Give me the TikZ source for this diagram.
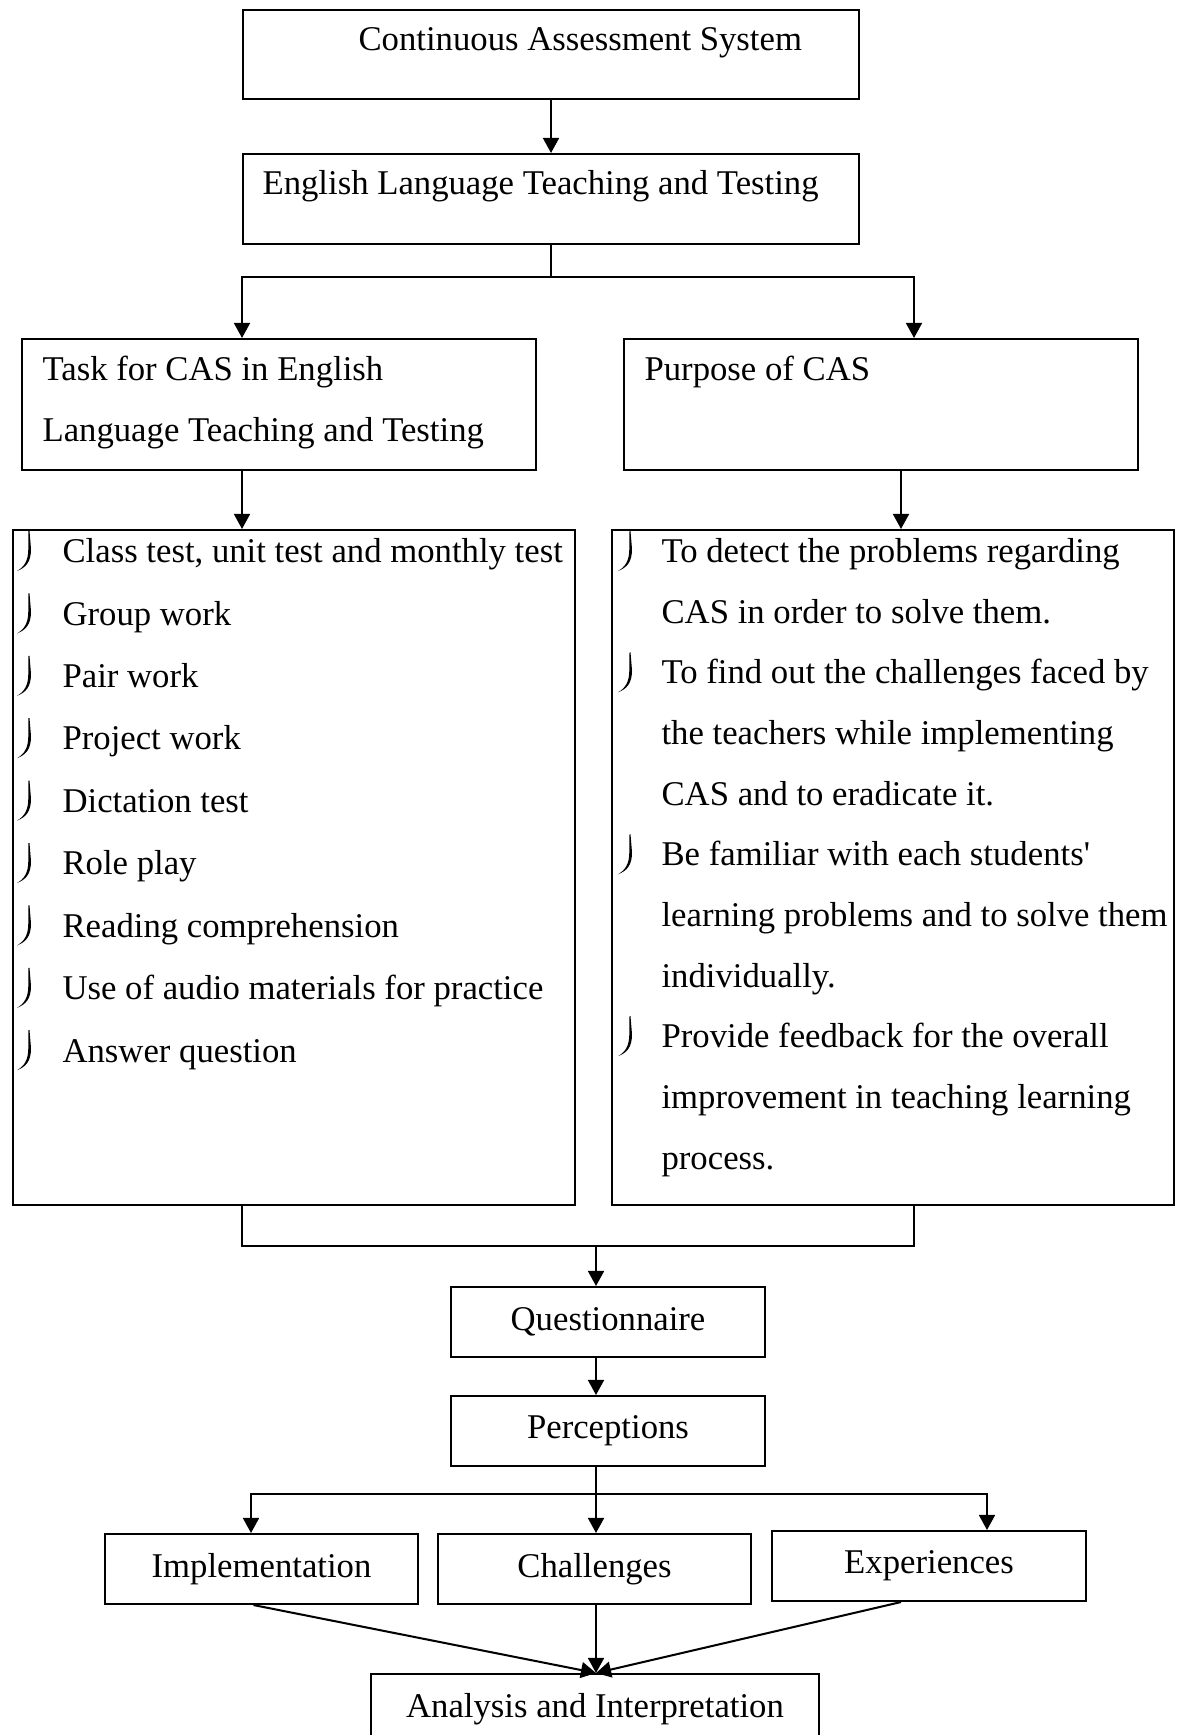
\documentclass[tikz,border=0pt]{standalone}
\usepackage{fontspec}
\setmainfont{Liberation Serif}
\usetikzlibrary{arrows.meta,calc}
\newcommand\pxu{0.3458pt}
\tikzset{
  box/.style 2 args={draw,line width=0.7pt,inner sep=0pt,anchor=north west,
    minimum width=#1*\pxu,minimum height=#2*\pxu},
  cbox/.style 2 args={box={#1}{#2},font=\fontsize{12}{14}\selectfont},
  lbl/.style={anchor=base west,inner sep=0pt,font=\fontsize{12}{14}\selectfont},
  lst/.style={lbl,align=left,font=\fontsize{12}{#1}\selectfont},
  arr/.style={-{Triangle[length=5.2pt,width=5.5pt]},line width=0.7pt},
  line/.style={line width=0.7pt},
  jbullet/.pic={\fill (-0.5,0) -- (-0.7,18) .. controls (-0.7,30) and (-5,36) .. (-12,40)
    .. controls (-3,36.5) and (2,31) .. (2,18) -- (0.5,0) -- cycle;}
}
\begin{document}
\begin{tikzpicture}[x=\pxu,y=-\pxu]
  \useasboundingbox (0,0) rectangle (1181,1735);
  \clip (0,0) rectangle (1181,1735);

  \node[box={616}{89}]  (cas)         at (242,9)   {};
  \node[box={616}{90}]  (elt)         at (242,153) {};
  \node[box={514}{131}] (task)        at (21,338)  {};
  \node[box={514}{131}] (purpose)     at (623,338) {};
  \node[box={562}{675}] (tasklist)    at (12,529)  {};
  \node[box={562}{675}] (purposelist) at (611,529) {};
  \node[cbox={314}{70}] (quest) at (450,1286) {Questionnaire};
  \node[cbox={314}{70}] (perc)  at (450,1395) {Perceptions};
  \node[cbox={313}{70}] (impl)  at (104,1533) {Implementation};
  \node[cbox={313}{70}] (chal)  at (437,1533) {Challenges};
  \node[cbox={314}{70}] (expe)  at (771,1530) {Experiences};
  \node[cbox={448}{70}] (anal)  at (370,1673) {Analysis and Interpretation};
%%%
  % multi-line labels sit on the baseline of their last line
  \node[lbl] (casT) at (358,51) {Continuous Assessment System};
  \node[lbl] (eltT) at (262,195) {English Language Teaching and Testing};
  \node[lst=21] (taskT) at (42,441) {Task for CAS in English\\Language Teaching and Testing};
  \node[lbl] (purposeT) at (644,381) {Purpose of CAS};
  \node[lst=21.58] (tasksT) at (62,1062) {Class test, unit test and monthly test\\
    Group work\\ Pair work\\ Project work\\ Dictation test\\ Role play\\
    Reading comprehension\\ Use of audio materials for practice\\ Answer question};
  \node[lst=20.97] (purposesT) at (661,1169) {To detect the problems regarding\\
    CAS in order to solve them.\\ To find out the challenges faced by\\
    the teachers while implementing\\ CAS and to eradicate it.\\
    Be familiar with each students\textquotesingle\\
    learning problems and to solve them\\ individually.\\
    Provide feedback for the overall\\ improvement in teaching learning\\ process.};
  \foreach \i in {0,...,8}
    \pic at (29,{531+62.4*\i}) {jbullet};
  \foreach \i in {0,2,5,8}
    \pic at (630,{531+60.65*\i}) {jbullet};
%%%
  \coordinate (tl) at (242,277);
  \coordinate (tr) at (914,277);
  \coordinate (pr) at (901,469);
  \coordinate (ml) at (242,1246);
  \coordinate (mr) at (914,1246);
  \coordinate (mid) at (596,1246);
  \coordinate (bl) at (251,1494);
  \coordinate (br) at (987,1494);

  \draw[arr] (cas) -- (elt);
  \draw[line] (elt.south) -- (elt.south |- tl);
  \draw[arr] (tl -| elt.south) -- (tl) -- (tl |- task.north);
  \draw[arr] (tr -| elt.south) -- (tr) -- (tr |- purpose.north);
  \draw[arr] (tl |- task.south) -- (tl |- tasklist.north);
  \draw[arr] (pr |- purpose.south) -- (pr |- purposelist.north);
  \draw[line] (ml |- tasklist.south) -- (ml) -- (mr) -- (mr |- purposelist.south);
  \draw[arr] (mid) -- (mid |- quest.north);
  \draw[arr] (mid |- quest.south) -- (mid |- perc.north);
  \draw[arr] (mid |- perc.south) -- (mid |- chal.north);
  \draw[arr] (mid |- bl) -- (bl) -- (bl |- impl.north);
  \draw[arr] (mid |- bl) -- (br) -- (br |- expe.north);
  \draw[arr] ($(impl.south)+(-8,0)$) -- (mid |- anal.north);
  \draw[arr] (mid |- chal.south) -- (mid |- anal.north);
  \draw[arr] ($(expe.south)+(-28,0)$) -- (mid |- anal.north);
\end{tikzpicture}
\end{document}
